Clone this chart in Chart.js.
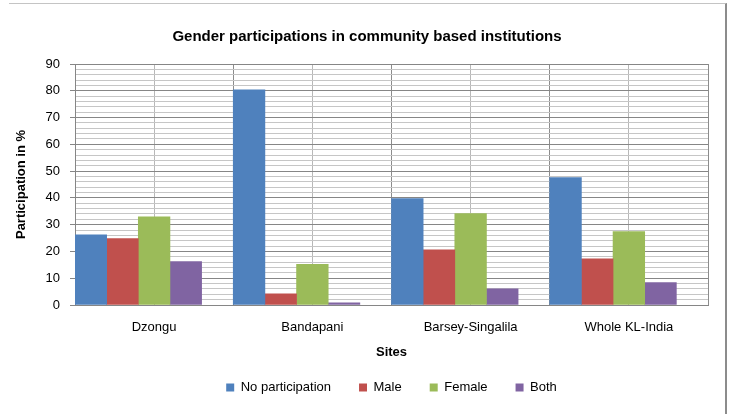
<!DOCTYPE html>
<html>
<head>
<meta charset="utf-8">
<script src="https://cdn.jsdelivr.net/npm/chart.js@4/dist/chart.umd.min.js"></script>
<style>
  html, body { margin: 0; padding: 0; background: #ffffff; }
  #wrap { position: relative; width: 729px; height: 414px; overflow: hidden; }
  #frame { position: absolute; left: 9px; top: 3px; width: 716px; height: 420px;
           border-top: 1px solid #c4c4c4; border-right: 2px solid #8c8c8c; pointer-events: none; }
  canvas { position: absolute; left: 0; top: 0; }
</style>
</head>
<body>
<div id="wrap">
  <canvas id="chart" width="729" height="414"></canvas>
  <div id="frame"></div>
</div>
<script>
// Sites surveyed and the share (%) of respondents in each participation group
const sites = ['Dzongu', 'Bandapani', 'Barsey-Singalila', 'Whole KL-India'];
const noParticipation = [26.2, 80.4, 39.7, 47.6];
const male = [24.8, 4.2, 20.6, 17.2];
const female = [32.9, 15.2, 34.1, 27.4];
const both = [16.2, 0.8, 6.0, 8.4];
// empty fifth slot in each group (keeps the four bars to the left of the category)
const spacer = [null, null, null, null];

const chartTitle = 'Gender participations in community based institutions';
const yTitle = 'Participation in %';
const xTitle = 'Sites';
const yMin = 0, yMax = 90, yMajor = 10, yMinor = 2;

const FONT = '"Liberation Sans", Arial, sans-serif';
const MAJOR = '#868686';
const MINOR = '#c6c6c6';

// chart heading, centred across the framed area
const headingPlugin = {
  id: 'heading',
  afterDraw(chart) {
    const ctx = chart.ctx;
    ctx.save();
    ctx.font = 'bold 15px ' + FONT;
    ctx.fillStyle = '#000000';
    ctx.textAlign = 'center';
    ctx.textBaseline = 'middle';
    ctx.fillText(chartTitle, 367, 37);
    ctx.restore();
  }
};

new Chart(document.getElementById('chart'), {
  type: 'bar',
  data: {
    labels: sites,
    datasets: [
      { label: 'No participation', data: noParticipation, backgroundColor: '#4f81bd' },
      { label: 'Male', data: male, backgroundColor: '#c0504d' },
      { label: 'Female', data: female, backgroundColor: '#9bbb59' },
      { label: 'Both', data: both, backgroundColor: '#8064a2' },
      { label: '', data: spacer, backgroundColor: 'rgba(0,0,0,0)' }
    ]
  },
  options: {
    responsive: false,
    animation: false,
    devicePixelRatio: 1,
    datasets: { bar: { categoryPercentage: 1, barPercentage: 1, borderWidth: 0 } },
    layout: { padding: { left: 0, right: 21, top: 64, bottom: 10 } },
    plugins: {
      title: { display: false },
      tooltip: { enabled: false },
      legend: {
        position: 'bottom',
        fullSize: false,
        labels: {
          boxWidth: 8, boxHeight: 8, padding: 28,
          color: '#000000',
          font: { family: FONT, size: 13 },
          filter: item => item.text !== ''
        }
      }
    },
    scales: {
      x: {
        offset: true,
        grid: { offset: true, color: '#8c8c8c', drawTicks: false },
        border: { color: MAJOR },
        ticks: { color: '#000000', font: { family: FONT, size: 13 }, padding: 15 },
        title: { display: true, text: xTitle, color: '#000000',
                 font: { family: FONT, size: 13, weight: 'bold' }, padding: { top: 0, bottom: -7 } },
        afterFit: s => { s.height = 48; }
      },
      xc: {
        type: 'category',
        labels: sites,
        position: 'bottom',
        offset: true,
        grid: { offset: false, color: '#b8b8b8', drawTicks: false },
        border: { display: false },
        ticks: { display: false },
        afterFit: s => { s.height = 0; }
      },
      y: {
        min: yMin, max: yMax,
        ticks: {
          stepSize: yMinor,
          autoSkip: false,
          padding: 10,
          color: '#000000',
          font: { family: FONT, size: 13 },
          callback: v => (v % yMajor === 0 ? v : '')
        },
        grid: {
          color: c => (c.tick.value % yMajor === 0 ? MAJOR : MINOR),
          tickColor: c => (c.tick.value % yMajor === 0 ? MAJOR : 'rgba(0,0,0,0)'),
          tickLength: 5
        },
        border: { color: MAJOR },
        title: { display: true, text: yTitle, color: '#000000',
                 font: { family: FONT, size: 13, weight: 'bold' }, padding: { top: 14, bottom: 0 } },
        afterFit: s => { s.width = 75; }
      }
    }
  },
  plugins: [headingPlugin]
});
</script>
</body>
</html>
